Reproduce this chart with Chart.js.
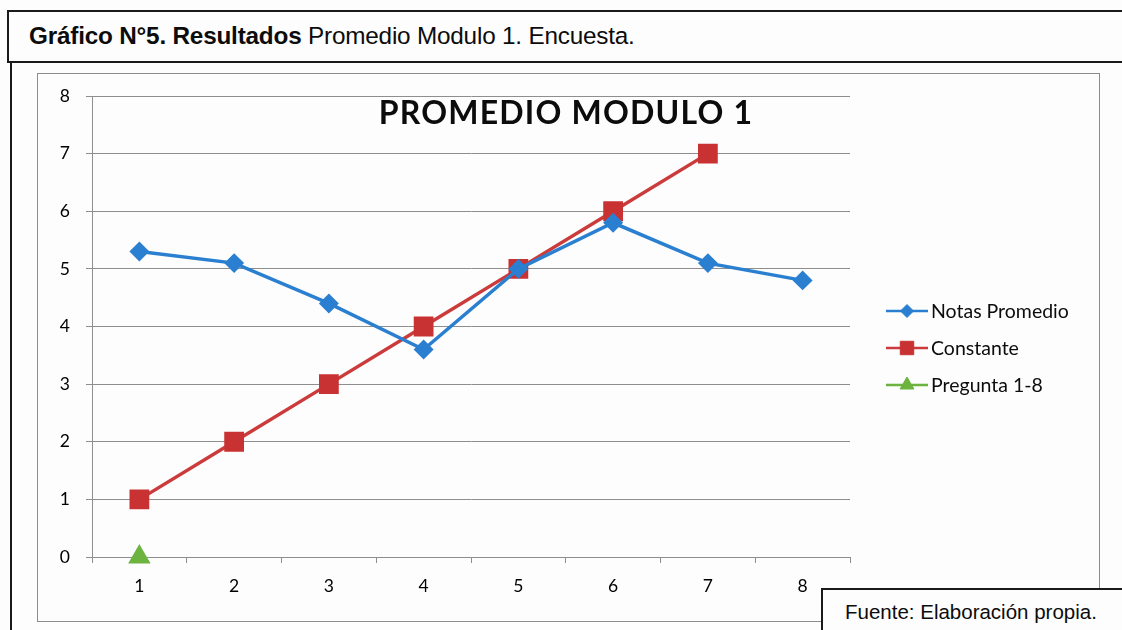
<!DOCTYPE html>
<html lang="es">
<head>
<meta charset="utf-8">
<title>Promedio Modulo 1</title>
<script src="https://cdn.jsdelivr.net/npm/chart.js@4.4.1/dist/chart.umd.min.js"></script>
<style>
  html, body { margin: 0; padding: 0; }
  body { width: 1122px; height: 630px; position: relative; overflow: hidden; background: #fdfdfd; font-family: "Liberation Sans", Arial, sans-serif; }
  .caption { position: absolute; left: 7px; top: 10px; width: 1130px; height: 49px; border: 2px solid #1a1a1a; border-right: none; background: #fdfdfd; }
  .caption span { position: absolute; left: 20px; top: 10px; font-size: 24.3px; letter-spacing: -0.2px; color: #0c0c0c; white-space: nowrap; }
  .caption b { font-weight: bold; }
  .pageEdge { position: absolute; left: 10px; top: 61px; width: 2px; height: 580px; background: #1a1a1a; }
  .frame { position: absolute; left: 37px; top: 73px; width: 1061px; height: 547px; border: 1px solid #8c8c8c; }
  .chartTitle { position: absolute; left: 266px; width: 600px; top: 92px; text-align: center; font-family: Lato, "Open Sans", sans-serif; font-weight: bold; font-size: 32px; letter-spacing: 1.2px; color: #0c0c0c; white-space: nowrap; }
  .source { position: absolute; left: 821px; top: 588px; width: 320px; height: 60px; border: 2px solid #1a1a1a; background: #fdfdfd; }
  .source span { position: absolute; left: 22px; top: 10px; font-size: 20.5px; color: #0c0c0c; white-space: nowrap; }
  #wrap { position: absolute; left: 0; top: 0; width: 1122px; height: 630px; }
</style>
</head>
<body>
<div class="caption"><span><b>Gráfico N°5. Resultados</b> Promedio Modulo 1. Encuesta.</span></div>
<div class="pageEdge"></div>
<div class="frame"></div>
<div id="wrap"><canvas id="chart" width="1122" height="630"></canvas></div>
<div class="chartTitle">PROMEDIO MODULO 1</div>
<div class="source"><span>Fuente: Elaboración propia.</span></div>
<script>
// Categories (question groups) and the three plotted series
const categories = ['1', '2', '3', '4', '5', '6', '7', '8'];
const notasPromedio = [5.3, 5.1, 4.4, 3.6, 5.0, 5.8, 5.1, 4.8];
const constante = [1, 2, 3, 4, 5, 6, 7, null];
const pregunta = [0, null, null, null, null, null, null, null];
const yTicks = [0, 1, 2, 3, 4, 5, 6, 7, 8];

const seriesNames = ['Notas Promedio', 'Constante', 'Pregunta 1-8'];
const seriesColors = ['#2a7fd0', '#cc3b3b', '#6db33f'];

const axisFont = { family: 'Lato, "Open Sans", sans-serif', size: 17.5 };
const gridColor = '#8e8e8e';

// Legend drawn as line segment + marker + label, stacked to the right of the plot
const sideLegend = {
  id: 'sideLegend',
  afterDraw(chart) {
    const ctx = chart.ctx;
    const area = chart.chartArea;
    const x0 = area.right + 36;
    const lineLen = 42;
    ctx.save();
    chart.data.datasets.forEach((ds, i) => {
      const y = area.top + 215 + i * 37;
      ctx.strokeStyle = ds.borderColor;
      ctx.lineWidth = 2.5;
      ctx.beginPath();
      ctx.moveTo(x0, y);
      ctx.lineTo(x0 + lineLen, y);
      ctx.stroke();
      ctx.fillStyle = ds.pointBackgroundColor;
      ctx.strokeStyle = ds.pointBackgroundColor;
      ctx.lineWidth = 1;
      Chart.helpers.drawPoint(ctx, {
        pointStyle: ds.pointStyle,
        radius: ds.legendRadius,
        borderWidth: 1,
        rotation: 0
      }, x0 + lineLen / 2, y);
      ctx.fillStyle = '#0c0c0c';
      ctx.font = '19.5px Lato, "Open Sans", sans-serif';
      ctx.textBaseline = 'middle';
      ctx.textAlign = 'left';
      ctx.fillText(ds.label, x0 + lineLen + 3, y + 1);
    });
    ctx.restore();
  }
};

new Chart(document.getElementById('chart'), {
  type: 'line',
  data: {
    labels: categories,
    datasets: [
      {
        label: seriesNames[0],
        data: notasPromedio,
        borderColor: seriesColors[0],
        backgroundColor: seriesColors[0],
        pointBackgroundColor: seriesColors[0],
        pointBorderColor: seriesColors[0],
        borderWidth: 3.5,
        pointStyle: 'rectRot',
        pointRadius: 7.5,
        legendRadius: 6.5,
        tension: 0
      },
      {
        label: seriesNames[1],
        data: constante,
        borderColor: seriesColors[1],
        backgroundColor: seriesColors[1],
        pointBackgroundColor: '#c93232',
        pointBorderColor: '#c93232',
        borderWidth: 3.5,
        pointStyle: 'rect',
        pointRadius: 11.5,
        legendRadius: 9.5,
        tension: 0
      },
      {
        label: seriesNames[2],
        data: pregunta,
        borderColor: seriesColors[2],
        backgroundColor: seriesColors[2],
        pointBackgroundColor: seriesColors[2],
        pointBorderColor: seriesColors[2],
        borderWidth: 3.5,
        pointStyle: 'triangle',
        pointRadius: 9.5,
        legendRadius: 8,
        clip: false,
        tension: 0
      }
    ]
  },
  options: {
    responsive: false,
    animation: false,
    events: [],
    layout: { padding: { left: 52, top: 96, right: 272, bottom: 31 } },
    plugins: {
      legend: { display: false },
      title: { display: false },
      tooltip: { enabled: false }
    },
    scales: {
      x: {
        offset: true,
        afterFit(scale) { scale.height = 42; },
        grid: {
          display: true,
          offset: true,
          drawOnChartArea: false,
          drawTicks: true,
          tickLength: 6,
          color: gridColor,
          lineWidth: 1
        },
        border: { display: true, color: gridColor, width: 1 },
        ticks: { font: axisFont, color: '#000', padding: 13, maxRotation: 0 }
      },
      y: {
        min: 0,
        max: 8,
        afterFit(scale) { scale.width = 40; },
        afterBuildTicks(scale) { scale.ticks = yTicks.map(v => ({ value: v })); },
        grid: {
          color: gridColor,
          lineWidth: 1,
          drawTicks: true,
          tickLength: 6
        },
        border: { display: true, color: gridColor, width: 1 },
        ticks: { font: axisFont, color: '#000', padding: 16, stepSize: 1 }
      }
    }
  },
  plugins: [sideLegend]
});
</script>
</body>
</html>
